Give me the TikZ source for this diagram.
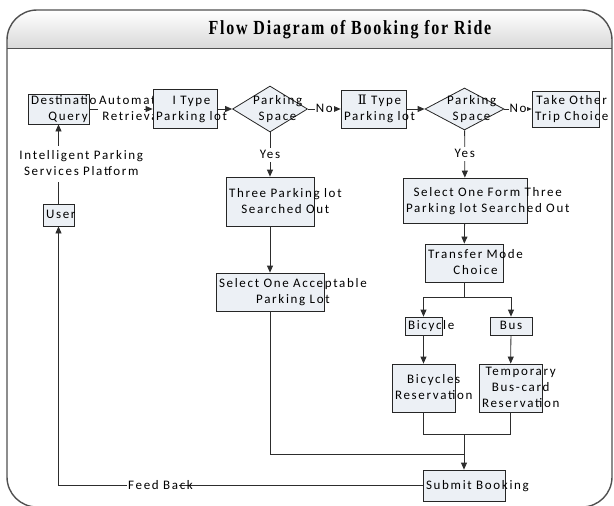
\documentclass[tikz,border=0pt]{standalone}
\usepackage{fontspec}
\usepackage{graphicx}
\usetikzlibrary{arrows.meta,calc,shapes.geometric}
\setmainfont[LetterSpace=13,WordSpace=1.6]{Carlito}
\newfontfamily\titlefont[LetterSpace=11]{Liberation Serif}
\newfontfamily\numfont{DejaVu Serif}
\definecolor{boxfill}{RGB}{236,240,245}
\definecolor{edgeink}{RGB}{45,45,45}
\definecolor{frameink}{RGB}{80,80,80}
\newcommand{\blocktext}[1]{\raisebox{-3.5pt}{\begin{tabular}{@{}c@{}}#1\end{tabular}}}
\pgfdeclarelayer{front}
\pgfsetlayers{main,front}

\begin{document}
\begin{tikzpicture}[x=1pt,y=-1pt,font=\fontsize{13}{16}\selectfont,
  box/.style={draw=black!85,fill=boxfill,line width=0.8pt,inner sep=3pt,align=center,
    text height=0pt,text depth=0pt},
  dia/.style={diamond,draw=black!85,fill=boxfill,line width=0.8pt,inner sep=0pt},
  diatext/.style={inner sep=0pt,align=center,text height=0pt,text depth=0pt},
  lbl/.style={fill=white,inner sep=1pt,align=center,text height=0pt,text depth=0pt,
    minimum height=14pt},
  link/.style={draw=edgeink,line width=0.8pt},
  arr/.style={link,-{Triangle[length=7pt,width=6pt]}},
  frame/.style={draw=frameink,line width=1.4pt}]
  \useasboundingbox (0,0) rectangle (614,506);
  % title band
  \begin{scope}
    \clip[rounded corners=30pt] (7,10) rectangle (612,507);
    \shade[top color=white,bottom color=gray!30] (7,10) rectangle (612,48);
  \end{scope}
  \node[font=\titlefont\bfseries\fontsize{20}{24}\selectfont] (title) at (350,30)
    {\scalebox{0.8}[1]{Flow Diagram of Booking for Ride}};

  % top row
  \node[box,text width=55pt,minimum height=30pt] (dest) at (58.5,109) {\blocktext{Destination\\Query}};
  \begin{pgfonlayer}{front}
    \node[box,text width=58pt,minimum height=39pt] (it1) at (185,109) {\blocktext{I Type\\Parking lot}};
  \end{pgfonlayer}
  \node[dia,minimum width=75pt,minimum height=46pt] (d1) at (270,109) {};
  \node[diatext,text width=34pt] (d1t) at (d1) {\blocktext{Parking\\Space}};
  \node[box,text width=59pt,minimum height=38pt] (it2) at (373.5,109) {\blocktext{{\numfont Ⅱ} Type\\Parking lot}};
  \node[dia,minimum width=79pt,minimum height=42pt] (d2) at (464.5,109) {};
  \node[diatext,text width=35pt] (d2t) at (d2) {\blocktext{Parking\\Space}};
  \node[box,text width=61pt,minimum height=36pt] (other) at (565.5,109) {\blocktext{Take Other\\Trip Choice}};

  % left column
  \node[box,text width=25pt,minimum height=22pt] (user) at (58.5,215) {\blocktext{User}};

  % I type branch
  \node[box,text width=82pt,minimum height=49pt] (three) at (270,201.5) {\blocktext{Three Parking lot\\Searched Out}};
  \node[box,text width=102pt,minimum height=38pt] (accept) at (270,292) {\blocktext{Select One Acceptable\\Parking Lot}};

  % II type branch
  \node[box,text width=118pt,minimum height=45pt] (selform) at (465,200.5) {\blocktext{Select One Form Three\\Parking lot Searched Out}};
  \node[box,text width=72pt,minimum height=38pt] (transfer) at (464,263) {\blocktext{Transfer Mode\\Choice}};
  \node[box,text width=31pt,minimum height=18pt] (bicycle) at (423.5,326) {\blocktext{Bicycle}};
  \node[box,text width=36pt,minimum height=18pt] (bus) at (511,326) {\blocktext{Bus}};
  \node[box,text width=57pt,minimum height=48pt] (bikeres) at (423.5,388) {\blocktext{Bicycles\\Reservation}};
  \node[box,text width=57pt,minimum height=48pt] (busres) at (510.5,388) {\blocktext{Temporary\\Bus-card\\Reservation}};
  \node[box,text width=76pt,minimum height=31pt] (submit) at (464,485.5) {\blocktext{Submit Booking}};

  % connectors
  \draw[arr] (user) -- (dest) node[lbl,text width=78pt,minimum height=36pt,midway] (platform)
    {\blocktext{Intelligent Parking\\Services Platform}};
  \draw[arr] (dest) -- (it1) node[lbl,text width=44pt,minimum height=30pt,midway] (retrieval)
    {\blocktext{Automatic\\Retrieval}};
  \draw[arr] (it1) -- (d1);
  \draw[arr] (d1) -- (it2) node[lbl,midway] (no1) {\blocktext{No}};
  \draw[arr] (it2) -- (d2);
  \draw[arr] (d2) -- (other) node[lbl,midway] (no2) {\blocktext{No}};
  \draw[arr] (d1) -- (three) node[lbl,midway] (yes1) {\blocktext{Yes}};
  \draw[arr] (d2) -- (selform) node[lbl,midway] (yes2) {\blocktext{Yes}};
  \draw[arr] (three) -- (accept);
  \draw[arr] (selform) -- (transfer);
  \draw[arr] (transfer.south) -- ++(0,15) coordinate (fork) -| (bicycle.north);
  \draw[arr] (fork) -| (bus.north);
  \draw[arr] (bicycle) -- (bikeres);
  \draw[arr] (bus) -- (busres);
  \draw[link] (bikeres.south) -- ++(0,22) coordinate (merge) -| (busres.south);
  \draw[arr] (merge -| submit.north) -- (submit.north);
  \draw[link] (accept.south) |- ($(submit.north)+(0,-15)$);
  \draw[arr] (submit.west) -| (user.south) node[lbl,text width=50pt,pos=0.37] (feedback)
    {\blocktext{Feed Back}};

  % frame
  \draw[frame,rounded corners=30pt] (7,10) rectangle (612,507);
  \draw[frame,line width=1pt] (7,48) -- (612,48);
\end{tikzpicture}
\end{document}
